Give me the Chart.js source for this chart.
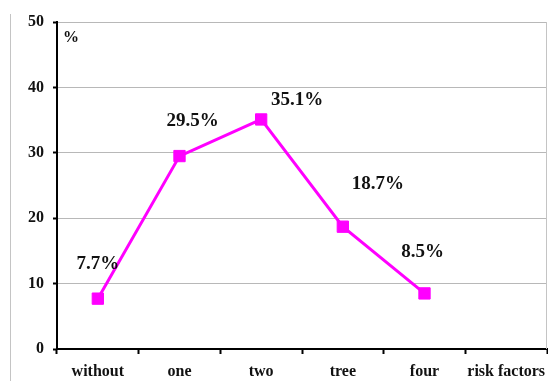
<!DOCTYPE html>
<html>
<head>
<meta charset="utf-8">
<script src="https://cdn.jsdelivr.net/npm/chart.js@4"></script>
<style>
    html, body { margin: 0; padding: 0; background: #fff; }
    #wrap { width: 548px; height: 381px; }
</style>
</head>
<body>
<div id="wrap"><canvas id="riskChart" width="548" height="381"></canvas></div>
<script>
// Share of patients by number of risk factors
const categories = ['without', 'one', 'two', 'tree', 'four', 'risk factors'];
const shares = [7.7, 29.5, 35.1, 18.7, 8.5, null];
const yTicks = [0, 10, 20, 30, 40, 50];

// where each value label sits relative to its point
const labelOffsets = [[0, -35], [13, -35], [36, -19], [35, -43], [-2, -41]];

const serif = "'Liberation Serif', 'Times New Roman', serif";

// value labels, the "%" unit and the frame lines
const annotatePlugin = {
    id: 'annotate',
    afterDraw(chart) {
        const ctx = chart.ctx;
        const area = chart.chartArea;
        ctx.save();

        // frame lines
        ctx.strokeStyle = '#c4c4c4';
        ctx.lineWidth = 1;
        ctx.beginPath();
        ctx.moveTo(10.5, 14);
        ctx.lineTo(10.5, chart.height);
        ctx.moveTo(area.right - 0.5, area.top);
        ctx.lineTo(area.right - 0.5, area.bottom);
        ctx.stroke();

        // unit
        ctx.fillStyle = '#111';
        ctx.font = 'bold 16px ' + serif;
        ctx.textAlign = 'left';
        ctx.textBaseline = 'middle';
        ctx.fillText('%', area.left + 6, area.top + 16);

        // value labels
        const meta = chart.getDatasetMeta(0);
        ctx.font = 'bold 19px ' + serif;
        ctx.textAlign = 'center';
        shares.forEach((v, i) => {
            if (v === null) return;
            const pt = meta.data[i];
            const [dx, dy] = labelOffsets[i];
            ctx.fillText(v.toFixed(1) + '%', pt.x + dx, pt.y + dy);
        });
        ctx.restore();
    }
};

new Chart(document.getElementById('riskChart').getContext('2d'), {
    type: 'line',
    data: {
        labels: categories,
        datasets: [{
            data: shares,
            borderColor: '#ff00ff',
            backgroundColor: '#ff00ff',
            borderWidth: 3,
            pointStyle: 'rect',
            pointRadius: 8,
            pointBorderWidth: 1,
            tension: 0,
            spanGaps: false
        }]
    },
    options: {
        responsive: false,
        animation: false,
        layout: {
            autoPadding: false,
            padding: { left: 10, top: 22, right: 1, bottom: 0 }
        },
        plugins: {
            legend: { display: false },
            tooltip: { enabled: false }
        },
        scales: {
            x: {
                type: 'category',
                offset: true,
                grid: {
                    offset: true,
                    drawOnChartArea: false,
                    tickLength: 5,
                    tickColor: '#000',
                    tickWidth: 2
                },
                border: { color: '#000', width: 2 },
                ticks: {
                    color: '#111',
                    padding: 8,
                    maxRotation: 0,
                    minRotation: 0,
                    autoSkip: false,
                    font: { family: serif, size: 16, weight: 'bold' }
                },
                afterFit(scale) {
                    scale.height = 32;
                    scale.paddingLeft = 0;
                    scale.paddingRight = 0;
                }
            },
            y: {
                min: 0,
                max: 50,
                afterBuildTicks(scale) {
                    scale.ticks = yTicks.map(v => ({ value: v }));
                },
                grid: {
                    color: '#b8b8b8',
                    lineWidth: 1,
                    tickLength: 4,
                    tickColor: '#000',
                    tickWidth: 2
                },
                border: { color: '#000', width: 2 },
                ticks: {
                    color: '#111',
                    padding: 9,
                    font: { family: serif, size: 16, weight: 'bold' }
                },
                afterFit(scale) { scale.width = 47; }
            }
        }
    },
    plugins: [annotatePlugin]
});
</script>
</body>
</html>
